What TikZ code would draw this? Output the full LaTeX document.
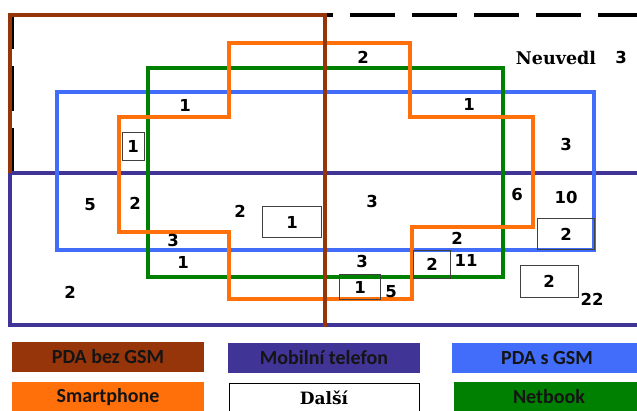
\documentclass[tikz,border=0pt]{standalone}
\usepackage{fontspec}
\setmainfont{DejaVu Sans}
\newfontfamily\legfont{Carlito}
\newfontfamily\serfont{DejaVu Serif}
\usetikzlibrary{positioning}

\definecolor{pdabrown}{RGB}{150,52,10}
\definecolor{mobpurple}{RGB}{64,52,150}
\definecolor{pdablue}{RGB}{66,108,250}
\definecolor{netgreen}{RGB}{0,128,0}
\definecolor{smorange}{RGB}{255,112,10}

\begin{document}
\begin{tikzpicture}[
  x=1pt,y=-1pt,
  setline/.style={line width=4.6pt},
  num/.style={font=\fontsize{16.5}{16.5}\selectfont\bfseries,inner sep=0pt},
  numbox/.style={num,draw=black!75,line width=0.9pt},
  leg/.style={minimum height=30pt,inner sep=0pt,font=\legfont\fontsize{20}{20}\selectfont\bfseries,text=black!92}
]
  \useasboundingbox (0,0) rectangle (637,410);
  \fill[white] (0,0) rectangle (637,410);

  % Neuvedl (dashed) and the sets
  \draw[line width=3.4pt,dash pattern=on 45pt off 17pt] (12,173) -- (12,15) -- (660,15);
  \draw[setline,mobpurple] (660,173) -- (10,173) -- (10,325) -- (660,325);
  \draw[setline,pdablue,line width=4.2pt] (57,92) rectangle (594,250);
  \draw[setline,netgreen,line width=4.2pt] (148,68) rectangle (503,277);
  \draw[setline,smorange] (229,43) -- (410,43) -- (410,117) -- (533,117) -- (533,227)
    -- (412,227) -- (412,299) -- (229,299) -- (229,232) -- (119,232) -- (119,117)
    -- (229,117) -- cycle;
  \draw[setline,pdabrown] (10,173) -- (10,15) -- (325,15) -- (325,327);

  % counts
  \node[num] (n1) at (363,57) {2};
  \node[font=\serfont\fontsize{17.5}{17.5}\selectfont\bfseries,inner sep=0pt] (nv) at (556,58) {Neuvedl};
  \node[num] (n2) at (621,57) {3};
  \node[num] (n3) at (185,105) {1};
  \node[num] (n4) at (469,104) {1};
  \node[numbox,minimum width=22pt,minimum height=28pt] (b1) at (133,146) {1};
  \node[num] (n5) at (566,144) {3};
  \node[num] (n6) at (90,205) {5};
  \node[num] (n7) at (135,203) {2};
  \node[num] (n8) at (240,211) {2};
  \node[numbox,minimum width=59pt,minimum height=31pt] (b2) at (292,222) {1};
  \node[num] (n9) at (372,201) {3};
  \node[num] (n10) at (517,194) {6};
  \node[num] (n11) at (566,197) {10};
  \node[num] (n12) at (173,240) {3};
  \node[num] (n13) at (183,262) {1};
  \node[num] (n14) at (457,238) {2};
  \node[numbox,minimum width=57pt,minimum height=31pt] (b3) at (566,234) {2};
  \node[num] (n15) at (362,261) {3};
  \node[numbox,minimum width=37pt,minimum height=28pt] (b4) at (432,264) {2};
  \node[num] (n16) at (466,260) {11};
  \node[numbox,minimum width=41pt,minimum height=25pt] (b5) at (360,287) {1};
  \node[num] (n17) at (391,292) {5};
  \node[numbox,minimum width=58pt,minimum height=32pt] (b6) at (549,281) {2};
  \node[num] (n18) at (592,299) {22};
  \node[num] (n19) at (70,292) {2};

  % legend
  \node[leg,fill=pdabrown,minimum width=192pt] (lbrown) at (108,357) {PDA bez GSM};
  \node[leg,fill=mobpurple,minimum width=192pt] (lpurple) at (324,358) {Mobilní telefon};
  \node[leg,fill=pdablue,minimum width=190pt] (lblue) at (547,358) {PDA s GSM};
  \node[leg,fill=smorange,minimum width=192pt] (lorange) at (108,397) {Smartphone};
  \node[leg,draw=black,line width=1pt,minimum width=190pt,font=\serfont\fontsize{17}{17}\selectfont\bfseries,text=black] (lwhite) at (324,398) {Další};
  \node[leg,fill=netgreen,minimum width=190pt] (lgreen) at (549,397) {Netbook};
\end{tikzpicture}
\end{document}
